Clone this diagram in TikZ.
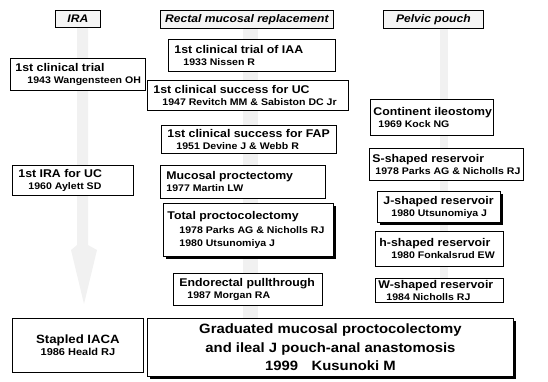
\documentclass[tikz,border=0pt]{standalone}
\usepackage{fontspec}
\setmainfont{Liberation Sans}[FakeStretch=1.1]
\usetikzlibrary{shadows}
\newcommand\ti[1]{\mbox{\fontsize{11.2}{13.5}\selectfont\bfseries #1}}
\newcommand\subt[2][9pt]{\mbox{\fontsize{9.6}{13}\selectfont\bfseries\hspace*{#1}#2}}
\newcommand\bx[7][]{%
  \pgfmathsetmacro\bw{#5-#3}\pgfmathsetmacro\bh{#6-#4}%
  \node[box,#1,minimum width=\bw pt,minimum height=\bh pt] (#2) at (#3,#4)
    {\parbox{\dimexpr\bw pt-12pt\relax}{\hbadness=10000\hfuzz=50pt #7}};}
\begin{document}
\begin{tikzpicture}[x=1pt,y=-1pt,
  box/.style={draw=black,fill=white,line width=0.9pt,anchor=north west,
    inner xsep=6pt,inner ysep=0pt,align=left},
  hdr/.style={draw=black,fill=gray!8,line width=0.7pt,anchor=north west,
    inner sep=0pt,font=\fontsize{11}{12}\selectfont\bfseries\itshape},
  shd/.style={drop shadow={shadow xshift=2.5pt,shadow yshift=-2.5pt,fill=black,opacity=1}},
  band/.style={fill=gray!11,draw=none}]
\useasboundingbox (0,0) rectangle (548,382);
% faint stippled bands
\fill[band] (77,28) -- (88,28) -- (88,245) -- (97,250) -- (84,304) -- (71,250) -- (77,245) -- cycle;
\fill[band] (243,28) rectangle (258,318);
\fill[band] (440,28) rectangle (448,278);
% headers
\node[hdr,minimum width=45pt,minimum height=17pt] (hira) at (55,10) {IRA};
\node[hdr,minimum width=173pt,minimum height=18pt] (hrmr) at (160,10) {Rectal mucosal replacement};
\node[hdr,minimum width=100pt,minimum height=18pt] (hpp) at (383,10) {Pelvic pouch};
% boxes
\bx{iaa}{168}{39}{335}{71}{\ti{1st clinical trial of IAA}\\\subt{1933 Nissen R}}
\bx{ct}{10}{58}{145}{90}{\hspace*{-1pt}\ti{1st clinical trial}\\\subt[11pt]{1943 Wangensteen OH}}
\bx{uc}{147}{80}{348}{110}{\ti{1st clinical success for UC}\\\subt{1947 Revitch MM \& Sabiston DC Jr}}
\bx{ci}{370}{99}{493}{135}{\hspace*{-3pt}\ti{Continent ileostomy}\\\subt[2pt]{1969 Kock NG}}
\bx{fap}{161}{125}{336}{153}{\ti{1st clinical success for FAP}\\\subt{1951 Devine J \& Webb R}}
\bx{ss}{369}{148}{523}{180}{\hspace*{-3pt}\ti{S-shaped reservoir}\\\subt[0pt]{1978 Parks AG \& Nicholls RJ}}
\bx{ira}{12}{165}{133}{195}{\ti{1st IRA for UC}\\\subt[10pt]{1960 Aylett SD}}
\bx{mp}{160}{165}{325}{198}{\ti{Mucosal proctectomy}\\\subt[0pt]{1977 Martin LW}}
\bx[shd]{js}{377}{191}{500}{222}{\ti{J-shaped reservoir}\\\subt[8pt]{1980 Utsunomiya J}}
\bx[shd]{tp}{163}{203}{333}{256}{\hspace*{-2pt}\ti{Total proctocolectomy}\\[1.5pt]\subt[10pt]{1978 Parks AG \& Nicholls RJ}\\[1.5pt]\subt[10pt]{1980 Utsunomiya J}}
\bx{hs}{375}{231}{503}{266}{\hspace*{-2pt}\ti{h-shaped reservoir}\\\subt[10pt]{1980 Fonkalsrud EW}}
\bx{ep}{173}{273}{322}{305}{\ti{Endorectal pullthrough}\\\subt[8pt]{1987 Morgan RA}}
\bx{ws}{375}{278}{503}{302}{\hspace*{-3pt}\ti{W-shaped reservoir}\\\subt[5pt]{1984 Nicholls RJ}}
\bx{sia}{12}{318}{143}{372}{\centering{\fontsize{12}{15}\selectfont\bfseries Stapled IACA}\\{\fontsize{10}{12}\selectfont\bfseries 1986 Heald RJ}}
\bx[shd]{gm}{147}{318}{513}{376}{\centering\fontsize{13.5}{18.5}\selectfont\bfseries Graduated mucosal proctocolectomy\\and ileal J pouch-anal anastomosis\\1999\quad Kusunoki M}
\end{tikzpicture}
\end{document}
